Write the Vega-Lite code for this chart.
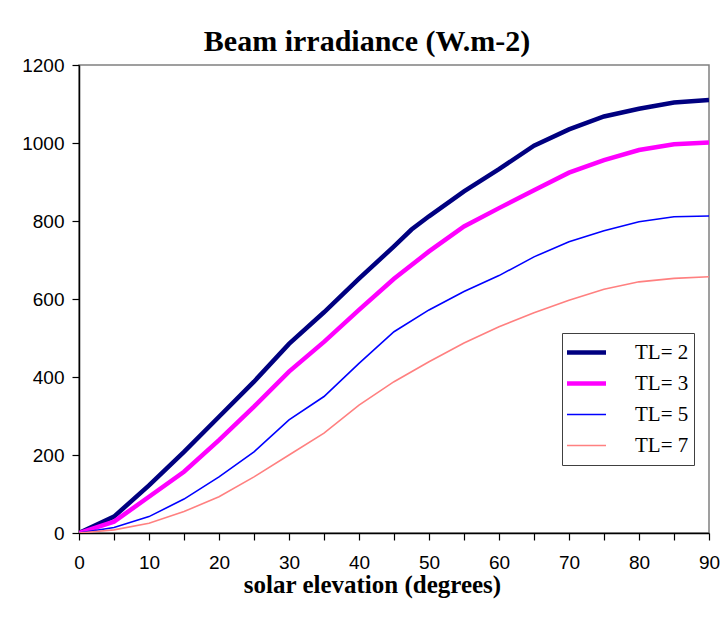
{
  "$schema": "https://vega.github.io/schema/vega-lite/v6.json",
  "width": 630,
  "height": 468,
  "autosize": "none",
  "padding": {"left": 79, "top": 65, "right": 12, "bottom": 84},
  "background": "white",
  "title": {
    "text": "Beam irradiance (W.m-2)",
    "font": "Liberation Serif",
    "fontSize": 30,
    "fontWeight": "bold",
    "color": "black",
    "anchor": "middle",
    "frame": "group",
    "dx": -27,
    "dy": 39,
    "offset": 14,
    "baseline": "alphabetic"
  },
  "config": {
    "view": {"stroke": "#808080", "strokeWidth": 1.5},
    "axis": {"grid": false, "domainColor": "black", "tickColor": "black", "labelColor": "black", "domainWidth": 1.5, "tickWidth": 1.2, "tickSize": 7}
  },
  "data": {
    "values": [
      {"elev": 0, "TL": "TL= 2", "irr": 0}, {"elev": 5, "TL": "TL= 2", "irr": 42}, {"elev": 10, "TL": "TL= 2", "irr": 122}, {"elev": 15, "TL": "TL= 2", "irr": 208}, {"elev": 20, "TL": "TL= 2", "irr": 298}, {"elev": 25, "TL": "TL= 2", "irr": 388}, {"elev": 30, "TL": "TL= 2", "irr": 485}, {"elev": 35, "TL": "TL= 2", "irr": 566}, {"elev": 40, "TL": "TL= 2", "irr": 652}, {"elev": 45, "TL": "TL= 2", "irr": 735}, {"elev": 47.5, "TL": "TL= 2", "irr": 778}, {"elev": 50, "TL": "TL= 2", "irr": 812}, {"elev": 55, "TL": "TL= 2", "irr": 876}, {"elev": 60, "TL": "TL= 2", "irr": 933}, {"elev": 65, "TL": "TL= 2", "irr": 993}, {"elev": 70, "TL": "TL= 2", "irr": 1035}, {"elev": 75, "TL": "TL= 2", "irr": 1068}, {"elev": 80, "TL": "TL= 2", "irr": 1088}, {"elev": 85, "TL": "TL= 2", "irr": 1104}, {"elev": 90, "TL": "TL= 2", "irr": 1110},
      {"elev": 0, "TL": "TL= 3", "irr": 0}, {"elev": 5, "TL": "TL= 3", "irr": 29}, {"elev": 10, "TL": "TL= 3", "irr": 93}, {"elev": 15, "TL": "TL= 3", "irr": 157}, {"elev": 20, "TL": "TL= 3", "irr": 238}, {"elev": 25, "TL": "TL= 3", "irr": 324}, {"elev": 30, "TL": "TL= 3", "irr": 414}, {"elev": 35, "TL": "TL= 3", "irr": 490}, {"elev": 40, "TL": "TL= 3", "irr": 572}, {"elev": 45, "TL": "TL= 3", "irr": 652}, {"elev": 50, "TL": "TL= 3", "irr": 722}, {"elev": 55, "TL": "TL= 3", "irr": 786}, {"elev": 60, "TL": "TL= 3", "irr": 833}, {"elev": 65, "TL": "TL= 3", "irr": 879}, {"elev": 70, "TL": "TL= 3", "irr": 924}, {"elev": 75, "TL": "TL= 3", "irr": 956}, {"elev": 80, "TL": "TL= 3", "irr": 982}, {"elev": 85, "TL": "TL= 3", "irr": 997}, {"elev": 90, "TL": "TL= 3", "irr": 1001},
      {"elev": 0, "TL": "TL= 5", "irr": 0}, {"elev": 5, "TL": "TL= 5", "irr": 14}, {"elev": 10, "TL": "TL= 5", "irr": 42}, {"elev": 15, "TL": "TL= 5", "irr": 87}, {"elev": 20, "TL": "TL= 5", "irr": 144}, {"elev": 25, "TL": "TL= 5", "irr": 208}, {"elev": 30, "TL": "TL= 5", "irr": 290}, {"elev": 35, "TL": "TL= 5", "irr": 350}, {"elev": 40, "TL": "TL= 5", "irr": 435}, {"elev": 45, "TL": "TL= 5", "irr": 516}, {"elev": 50, "TL": "TL= 5", "irr": 572}, {"elev": 55, "TL": "TL= 5", "irr": 619}, {"elev": 60, "TL": "TL= 5", "irr": 660}, {"elev": 65, "TL": "TL= 5", "irr": 708}, {"elev": 70, "TL": "TL= 5", "irr": 747}, {"elev": 75, "TL": "TL= 5", "irr": 775}, {"elev": 80, "TL": "TL= 5", "irr": 798}, {"elev": 85, "TL": "TL= 5", "irr": 811}, {"elev": 90, "TL": "TL= 5", "irr": 813},
      {"elev": 0, "TL": "TL= 7", "irr": 0}, {"elev": 5, "TL": "TL= 7", "irr": 8}, {"elev": 10, "TL": "TL= 7", "irr": 25}, {"elev": 15, "TL": "TL= 7", "irr": 55}, {"elev": 20, "TL": "TL= 7", "irr": 93}, {"elev": 25, "TL": "TL= 7", "irr": 144}, {"elev": 30, "TL": "TL= 7", "irr": 200}, {"elev": 35, "TL": "TL= 7", "irr": 256}, {"elev": 40, "TL": "TL= 7", "irr": 328}, {"elev": 45, "TL": "TL= 7", "irr": 388}, {"elev": 50, "TL": "TL= 7", "irr": 439}, {"elev": 55, "TL": "TL= 7", "irr": 487}, {"elev": 60, "TL": "TL= 7", "irr": 529}, {"elev": 65, "TL": "TL= 7", "irr": 565}, {"elev": 70, "TL": "TL= 7", "irr": 597}, {"elev": 75, "TL": "TL= 7", "irr": 625}, {"elev": 80, "TL": "TL= 7", "irr": 644}, {"elev": 85, "TL": "TL= 7", "irr": 653}, {"elev": 90, "TL": "TL= 7", "irr": 657}
    ]
  },
  "mark": {"type": "line", "clip": true},
  "encoding": {
    "x": {
      "field": "elev", "type": "quantitative",
      "scale": {"domain": [0, 90], "nice": false, "zero": false},
      "axis": {
        "values": [0, 5, 10, 15, 20, 25, 30, 35, 40, 45, 50, 55, 60, 65, 70, 75, 80, 85, 90],
        "labelExpr": "datum.value % 10 == 0 ? datum.label : ''",
        "labelFont": "Liberation Sans", "labelFontSize": 19, "labelPadding": 13,
        "labelFlush": false,
        "title": "solar elevation (degrees)",
        "titleFont": "Liberation Serif", "titleFontSize": 25, "titleFontWeight": "bold", "titleColor": "black",
        "titleX": 293, "titleY": 59, "titleAlign": "center", "titleBaseline": "alphabetic"
      }
    },
    "y": {
      "field": "irr", "type": "quantitative",
      "scale": {"domain": [0, 1200], "nice": false},
      "axis": {
        "values": [0, 200, 400, 600, 800, 1000, 1200],
        "format": "d",
        "labelFont": "Liberation Sans", "labelFontSize": 19, "labelPadding": 8,
        "labelFlush": false,
        "title": null
      }
    },
    "color": {
      "field": "TL", "type": "nominal",
      "scale": {"domain": ["TL= 2", "TL= 3", "TL= 5", "TL= 7"], "range": ["#000080", "#FF00FF", "#0000FF", "#FF8080"]},
      "legend": {
        "title": null, "orient": "none", "legendX": 483, "legendY": 268,
        "symbolType": "stroke", "symbolSize": 3249, "clipHeight": 29, "rowPadding": 2,
        "labelFont": "Liberation Serif", "labelFontSize": 21, "labelColor": "black", "labelOffset": 47,
        "strokeColor": "#404040", "padding": 5, "fillColor": "white",
        "encode": {"symbols": {"update": {"strokeWidth": {"signal": "datum.value == 'TL= 2' || datum.value == 'TL= 3' ? 4.5 : 1.6"}}}}
      }
    },
    "strokeWidth": {
      "condition": {"test": "datum.TL == 'TL= 2' || datum.TL == 'TL= 3'", "value": 4.5},
      "value": 1.6
    }
  }
}
